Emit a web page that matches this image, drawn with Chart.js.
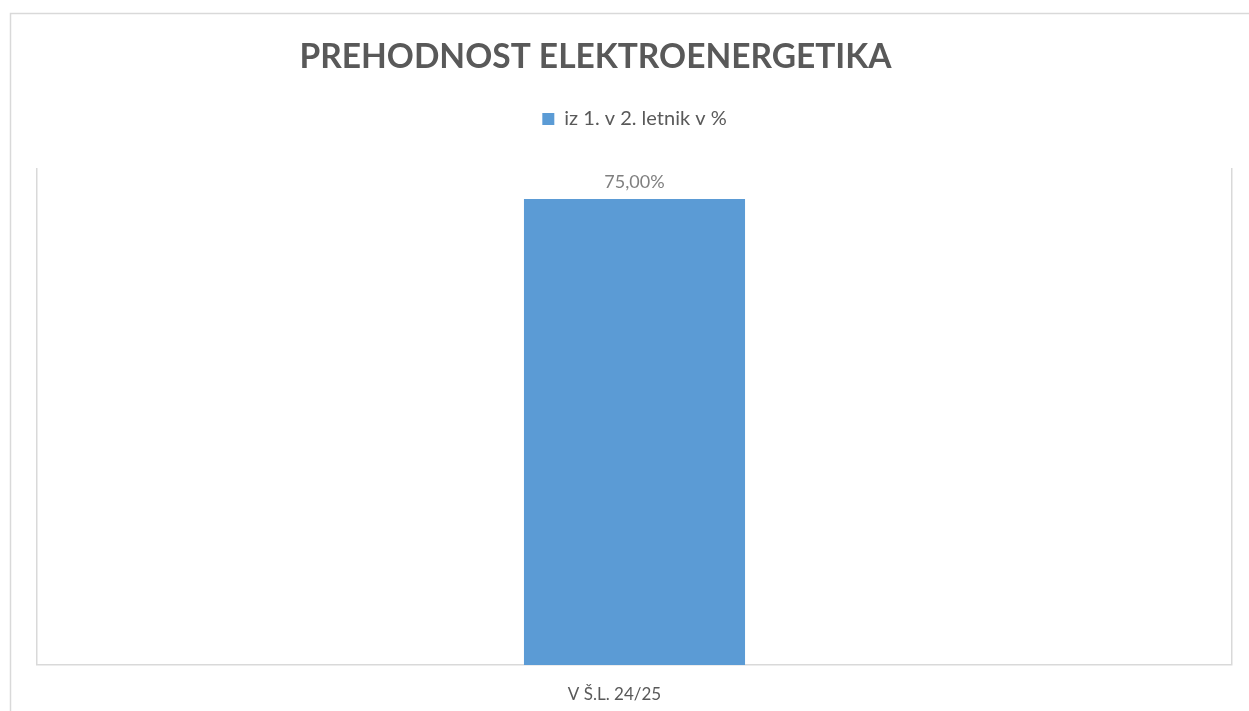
<!DOCTYPE html>
<html>
<head>
<meta charset="utf-8">
<script src="https://cdn.jsdelivr.net/npm/chart.js@4.4.0/dist/chart.umd.min.js"></script>
<style>
  html, body { margin: 0; padding: 0; background: #ffffff; }
  #wrap { width: 1249px; height: 711px; position: relative; }
</style>
</head>
<body>
<div id="wrap"><canvas id="c" width="1249" height="711"></canvas></div>
<script>
const chartTitle = 'PREHODNOST ELEKTROENERGETIKA';
const categories = ['V Š.L. 24/25'];
const seriesName = 'iz 1. v 2. letnik v %';
const seriesValues = [75];
const axisMin = 0;
const axisMax = 80;

const FONT = 'Lato';
const GREY = '#595959';
const LINE = '#d9d9d9';

const framePlugin = {
  id: 'frame',
  beforeDraw(chart) {
    const ctx = chart.ctx;
    ctx.save();
    ctx.fillStyle = '#ffffff';
    ctx.fillRect(0, 0, chart.width, chart.height);
    ctx.strokeStyle = LINE;
    ctx.lineWidth = 1.5;
    ctx.strokeRect(10.5, 13.5, chart.width + 50, chart.height + 50);
    ctx.restore();
  },
  afterDraw(chart) {
    const ctx = chart.ctx;
    ctx.save();
    ctx.font = 'bold 33.5px ' + FONT;
    ctx.fillStyle = GREY;
    ctx.textAlign = 'center';
    ctx.textBaseline = 'middle';
    ctx.fillText(chartTitle, 595.5, 57);
    ctx.restore();
  }
};

const labelPlugin = {
  id: 'barLabels',
  afterDatasetsDraw(chart) {
    const ctx = chart.ctx;
    ctx.save();
    ctx.font = '18px ' + FONT;
    ctx.fillStyle = '#7f7f7f';
    ctx.textAlign = 'center';
    ctx.textBaseline = 'middle';
    chart.data.datasets.forEach((ds, di) => {
      const meta = chart.getDatasetMeta(di);
      meta.data.forEach((el, i) => {
        const v = ds.data[i];
        const txt = v.toFixed(2).replace('.', ',') + '%';
        ctx.fillText(txt, el.x, el.y - 17);
      });
    });
    ctx.restore();
  }
};

new Chart(document.getElementById('c'), {
  type: 'bar',
  data: {
    labels: categories,
    datasets: [{
      label: seriesName,
      data: seriesValues,
      backgroundColor: '#5b9bd5',
      borderWidth: 0,
      barPercentage: 0.185,
      categoryPercentage: 1.0
    }]
  },
  options: {
    responsive: false,
    animation: false,
    devicePixelRatio: 1,
    layout: { padding: { left: 37, right: 17, top: 95, bottom: 0 } },
    plugins: {
      title: { display: false },
      subtitle: {
        display: true,
        text: '',
        weight: 500,
        position: 'top',
        font: { size: 10, lineHeight: 1 },
        padding: { top: 0, bottom: 19 }
      },
      legend: {
        display: true,
        position: 'top',
        labels: {
          boxWidth: 12,
          boxHeight: 12,
          padding: 14,
          color: GREY,
          font: { family: FONT, size: 20 }
        }
      },
      tooltip: { enabled: false }
    },
    scales: {
      x: {
        afterFit(scale) { scale.height = 46; },
        grid: {
          display: true,
          color: LINE,
          lineWidth: 1.5,
          drawTicks: false,
          offset: true
        },
        border: { display: true, color: LINE, width: 1.5 },
        ticks: {
          color: GREY,
          padding: 19,
          labelOffset: -20,
          font: { family: FONT, size: 17 }
        }
      },
      y: {
        display: false,
        min: axisMin,
        max: axisMax
      }
    }
  },
  plugins: [framePlugin, labelPlugin]
});
</script>
</body>
</html>
